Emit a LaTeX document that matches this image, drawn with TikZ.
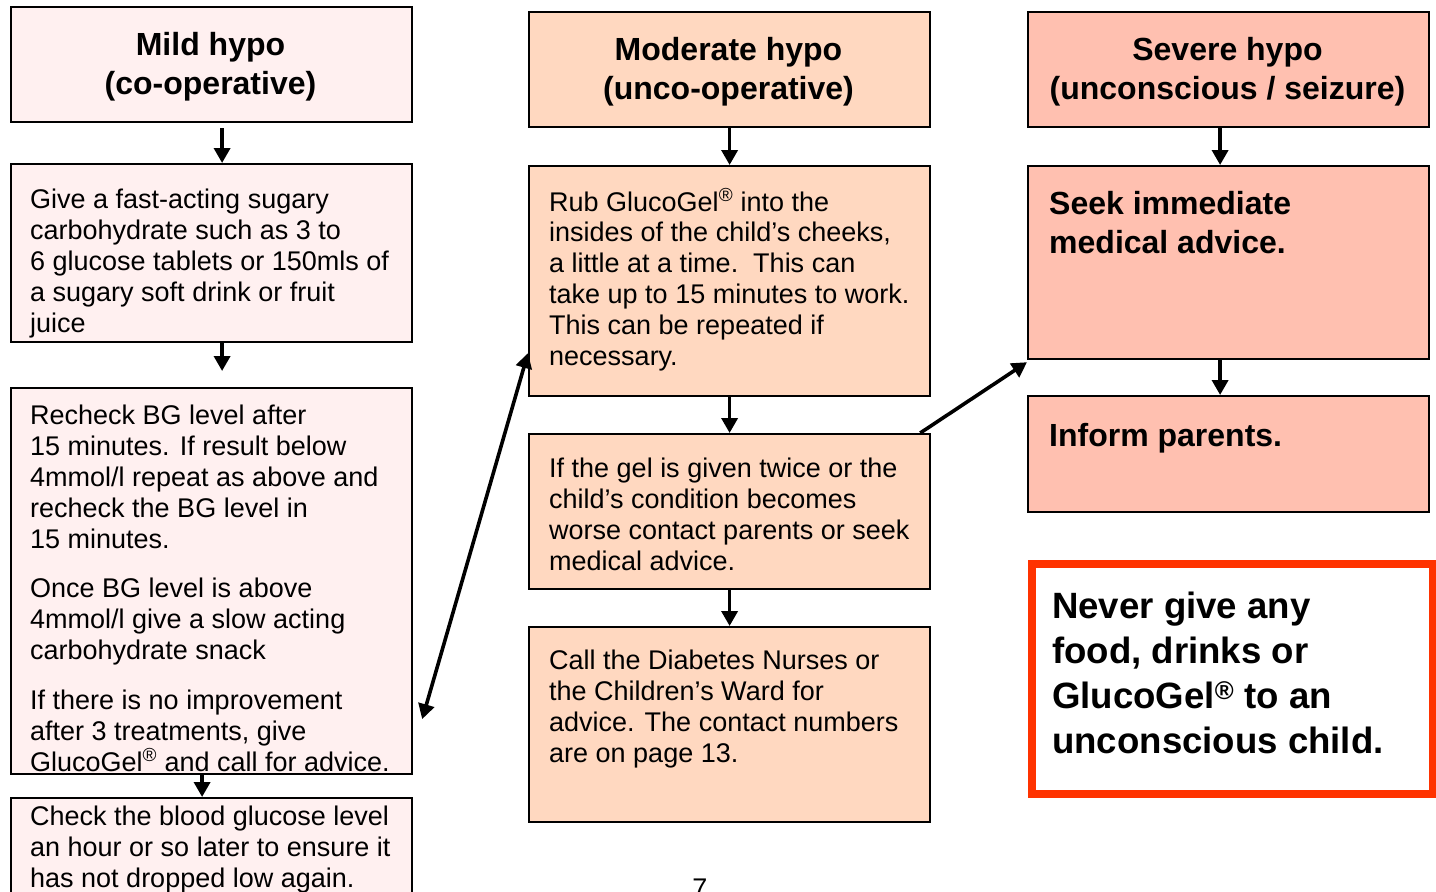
\documentclass[tikz,border=0pt]{standalone}
\usepackage{fontspec}
\setmainfont{Liberation Sans}
\usetikzlibrary{arrows.meta}
\definecolor{mildc}{RGB}{255,240,240}
\definecolor{modc}{RGB}{255,216,192}
\definecolor{sevc}{RGB}{255,192,176}
\definecolor{warnc}{RGB}{255,51,0}
\tikzset{
  box/.style={draw=black, line width=2.2pt, rectangle, inner sep=0pt, anchor=north west, minimum width=401pt},
  body/.style={anchor=base west, align=left, inner sep=0pt, font=\fontsize{27}{30.8}\selectfont},
  title/.style={anchor=base, align=center, inner sep=0pt, font=\bfseries\fontsize{32}{39}\selectfont},
  boldbody/.style={anchor=base west, align=left, inner sep=0pt, font=\bfseries\fontsize{32}{39}\selectfont},
  warntext/.style={anchor=base west, align=left, inner sep=0pt, font=\bfseries\fontsize{36.6}{44.7}\selectfont},
  arr/.style={line width=3.6pt, -{Triangle[length=15pt,width=16pt]}},
  darr/.style={line width=3.6pt, {Triangle[length=15pt,width=16pt]}-{Triangle[length=15pt,width=16pt]}},
}
\newcommand{\reg}{\textsuperscript{®}}
\begin{document}
\begin{tikzpicture}[x=1pt,y=-1pt]
\useasboundingbox (0,0) rectangle (1436,892);
% column 1
\node[box, fill=mildc, minimum height=115pt] (m0) at (10,6) {};
\node[box, fill=mildc, minimum height=178pt] (m1) at (10,163) {};
\node[box, fill=mildc, minimum height=386pt] (m2) at (10,387) {};
\node[box, fill=mildc, minimum height=110pt] (m3) at (10,797) {};
% column 2
\node[box, fill=modc, minimum height=115pt] (d0) at (528,11) {};
\node[box, fill=modc, minimum height=230pt] (d1) at (528,165) {};
\node[box, fill=modc, minimum height=155pt] (d2) at (528,433) {};
\node[box, fill=modc, minimum height=195pt] (d3) at (528,626) {};
% column 3
\node[box, fill=sevc, minimum height=115pt] (s0) at (1027,11) {};
\node[box, fill=sevc, minimum height=193pt] (s1) at (1027,165) {};
\node[box, fill=sevc, minimum height=116pt] (s2) at (1027,395) {};
\node[draw=warnc, line width=8pt, fill=white, rectangle, inner sep=0pt, anchor=north west, minimum width=401pt, minimum height=229.5pt] (w) at (1027.5,560) {};

% titles (anchored at the baseline of the last line)
\node[title] (t1) at (210.5,94) {Mild hypo\\(co-operative)};
\node[title] (t2) at (728.5,99) {Moderate hypo\\(unco-operative)};
\node[title] (t3) at (1227.5,99) {Severe hypo\\(unconscious / seizure)};

% column 1 texts
\node[body] (a1) at (30,332) {Give a fast-acting sugary\\carbohydrate such as 3 to\\6 glucose tablets or 150mls of\\a sugary soft drink or fruit\\juice};
\node[body] (a2) at (30,548) {Recheck BG level after\\15 minutes. If result below\\4mmol/l repeat as above and\\recheck the BG level in\\15 minutes.};
\node[body] (a3) at (30,659) {Once BG level is above\\4mmol/l give a slow acting\\carbohydrate snack};
\node[body] (a4) at (30,771) {If there is no improvement\\after 3 treatments, give\\GlucoGel\reg{} and call for advice.};
\node[body] (a5) at (30,887) {Check the blood glucose level\\an hour or so later to ensure it\\has not dropped low again.};

% column 2 texts
\node[body] (b1) at (549,365) {Rub GlucoGel\reg{} into the\\insides of the child’s cheeks,\\a little at a time.\ \ This can\\take up to 15 minutes to work.\\This can be repeated if\\necessary.};
\node[body] (b2) at (549,570) {If the gel is given twice or the\\child’s condition becomes\\worse contact parents or seek\\medical advice.};
\node[body] (b3) at (549,762) {Call the Diabetes Nurses or\\the Children’s Ward for\\advice. The contact numbers\\are on page 13.};

% column 3 texts
\node[boldbody] (c1) at (1049,253) {Seek immediate\\medical advice.};
\node[boldbody] (c2) at (1049,446) {Inform parents.};
\node[warntext] (c3) at (1052,753) {Never give any\\food, drinks or\\GlucoGel\reg{} to an\\unconscious child.};

% page number
\node[anchor=base, inner sep=0pt, font=\fontsize{27}{30}\selectfont] (pg) at (700,897) {7};

% connectors
\draw[arr, shorten <=5pt] ([xshift=10.5pt]m0.south) -- ([xshift=10.5pt]m1.north);
\draw[arr, shorten >=16pt] ([xshift=10.5pt]m1.south) -- ([xshift=10.5pt]m2.north);
\draw[arr] ([xshift=-9.5pt]m2.south) -- ([xshift=-9.5pt]m3.north);
\draw[arr] (d0.south) -- (d1.north);
\draw[arr] (d1.south) -- (d2.north);
\draw[arr] (d2.south) -- (d3.north);
\draw[arr] ([xshift=-8.5pt]s0.south) -- ([xshift=-8.5pt]s1.north);
\draw[arr] ([xshift=-8.5pt]s1.south) -- ([xshift=-8.5pt]s2.north);
\draw[darr] ([shift={(9,138)}]m2.east) -- ([shift={(0,72)}]d1.west);
\draw[arr] ([xshift=-11pt]d2.north east) -- ([yshift=-2pt]s1.south west);
\end{tikzpicture}
\end{document}
